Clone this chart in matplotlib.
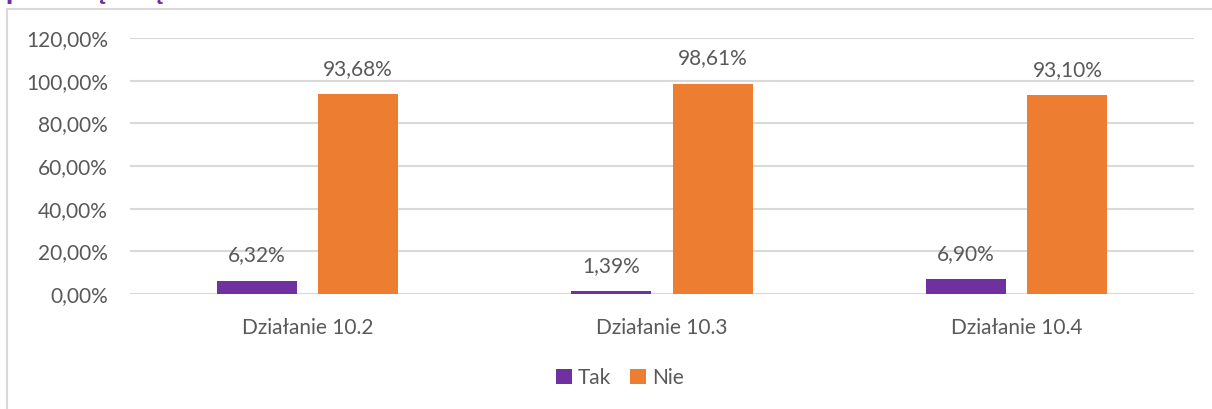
import matplotlib
matplotlib.use("Agg")
import matplotlib.pyplot as plt
from matplotlib.patches import Rectangle
import numpy as np

# Udzial odpowiedzi Tak / Nie w poszczegolnych dzialaniach
dzialania = ["Działanie 10.2", "Działanie 10.3", "Działanie 10.4"]
tak = [6.32, 1.39, 6.90]
nie = [93.68, 98.61, 93.10]
y_ticks = [0, 20, 40, 60, 80, 100, 120]

fiolet = "#7030A0"
pomarancz = "#ED7D31"
szary_tekst = "#595959"
siatka = "#D9D9D9"

plt.rcParams["font.family"] = ["Lato", "DejaVu Sans"]

fig = plt.figure(figsize=(12.12, 4.09), dpi=100)
W, H = 1212, 409

# ramka wykresu
fig.patches.append(Rectangle((7 / W, -0.1), 1.2, 1 - 9 / H + 0.1,
                             transform=fig.transFigure, fill=False,
                             edgecolor=siatka, linewidth=1.5))

# tytul (ucięty u gory)
fig.text(5 / W, 1 + 1.5 / H, "przedsięwzięcia", color=fiolet,
         fontsize=20, fontweight="black", va="baseline", ha="left")

ax = fig.add_axes([130 / W, (H - 294) / H, 1064 / W, (294 - 38) / H])
x = np.arange(len(dzialania))
szer = 0.225
off = 0.143

b1 = ax.bar(x - off, tak, szer, color=fiolet, label="Tak", zorder=3)
b2 = ax.bar(x + off, nie, szer, color=pomarancz, label="Nie", zorder=3)

for bars, vals in [(b1, tak), (b2, nie)]:
    for b, v in zip(bars, vals):
        ax.annotate(f"{v:.2f}%".replace(".", ","),
                    (b.get_x() + b.get_width() / 2, v),
                    xytext=(0, 11), textcoords="offset points",
                    ha="center", va="bottom", fontsize=15, color=szary_tekst)

ax.set_xlim(-0.5, 2.5)
ax.set_ylim(0, 120)
ax.set_yticks(y_ticks)
ax.set_yticklabels([f"{t:.2f}%".replace(".", ",") for t in y_ticks])
ax.set_xticks(x)
ax.set_xticklabels(dzialania)
ax.tick_params(axis="both", length=0, labelsize=15, labelcolor=szary_tekst)
ax.tick_params(axis="y", pad=16)
ax.tick_params(axis="x", pad=17)
ax.grid(axis="y", color=siatka, linewidth=1.5, zorder=0)
for s in ax.spines.values():
    s.set_visible(False)

fig.legend(loc="center", bbox_to_anchor=(620 / W, 1 - 378 / H), ncol=2,
           frameon=False, fontsize=15, handlelength=0.75, handleheight=0.75,
           handletextpad=0.3, columnspacing=0.9, labelcolor=szary_tekst)

fig.savefig("out.png", dpi=100, facecolor="white")
